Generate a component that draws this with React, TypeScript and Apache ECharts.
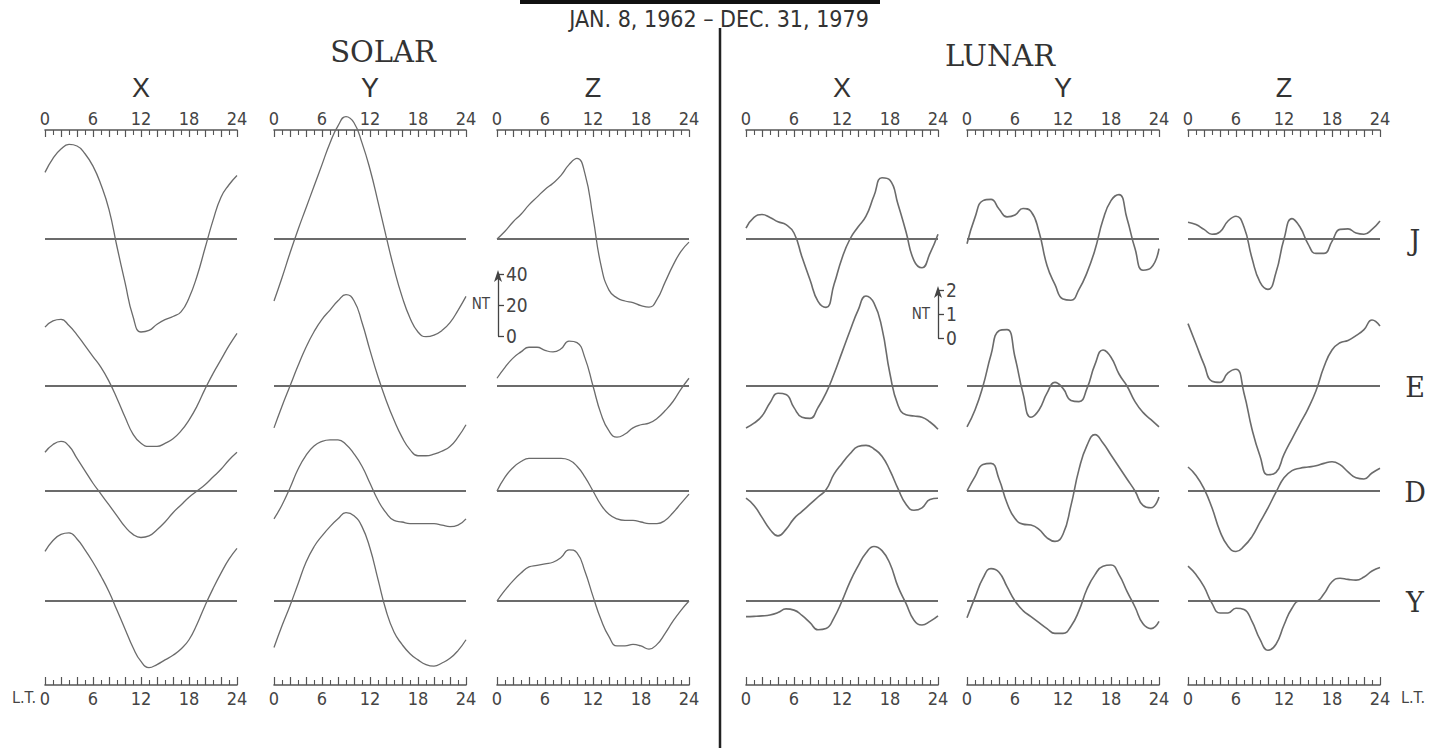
import React, { useEffect, useRef } from "react";
import * as echarts from "echarts";

// ---------- data ----------
const HOURS = [0, 1, 2, 3, 4, 5, 6, 7, 8, 9, 10, 11, 12, 13, 14, 15, 16, 17, 18, 19, 20, 21, 22, 23, 24];
const ROWS = ["J", "E", "D", "Y"];
const COMPONENTS = ["X", "Y", "Z"];
const TICK_LABELS = [0, 6, 12, 18, 24];
const SOLAR_SCALE_TICKS = [0, 20, 40];
const LUNAR_SCALE_TICKS = [0, 1, 2];

// Solar daily variation (nT), rows J, E, D, Y
const SOLAR_X_J = [43, 52, 58, 61, 60, 55, 47, 35, 19, -5, -28, -50, -60, -59, -55, -52, -50, -47, -38, -24, -6, 12, 27, 35, 41];
const SOLAR_X_E = [38, 42, 43, 39, 33, 26, 19, 12, 3, -8, -20, -31, -37, -39, -39, -37, -34, -29, -22, -13, -2, 8, 17, 26, 34];
const SOLAR_X_D = [25, 30, 32, 29, 21, 13, 5, -2, -9, -16, -23, -28, -30, -29, -25, -20, -14, -9, -4, 0, 4, 9, 14, 20, 25];
const SOLAR_X_Y = [32, 39, 43, 44, 40, 33, 25, 16, 6, -6, -18, -30, -39, -43, -41, -38, -35, -31, -25, -15, -3, 8, 18, 27, 34];

const SOLAR_Y_J = [-40, -25, -9, 6, 20, 34, 48, 62, 73, 79, 75, 62, 45, 24, 2, -19, -37, -51, -60, -63, -62, -59, -54, -46, -37];
const SOLAR_Y_E = [-27, -13, 0, 13, 25, 35, 43, 49, 55, 59, 55, 41, 23, 6, -9, -22, -33, -41, -45, -45, -44, -42, -39, -33, -25];
const SOLAR_Y_D = [-18, -9, 2, 14, 23, 29, 32, 33, 33, 30, 24, 16, 5, -6, -14, -19, -20, -21, -21, -21, -21, -22, -23, -22, -18];
const SOLAR_Y_Y = [-30, -16, -3, 11, 25, 35, 42, 48, 53, 57, 55, 48, 34, 14, -6, -20, -28, -34, -38, -41, -42, -40, -37, -32, -25];

const SOLAR_Z_J = [0, 5, 11, 16, 22, 27, 32, 36, 41, 48, 52, 42, 14, -17, -33, -38, -40, -41, -43, -44, -39, -28, -17, -8, -2];
const SOLAR_Z_E = [5, 12, 18, 22, 25, 25, 23, 22, 24, 29, 28, 18, 0, -18, -29, -33, -31, -27, -25, -24, -21, -16, -10, -2, 5];
const SOLAR_Z_D = [0, 9, 15, 19, 21, 21, 21, 21, 21, 20, 16, 9, 0, -9, -15, -18, -19, -19, -20, -21, -21, -19, -14, -8, -2];
const SOLAR_Z_Y = [0, 7, 13, 18, 22, 23, 24, 25, 28, 33, 31, 19, 3, -12, -23, -29, -29, -28, -29, -31, -28, -21, -13, -6, 0];

// Lunar daily variation (nT)
const LUNAR_X_J = [0.45, 0.9, 1.02, 0.9, 0.72, 0.6, 0.25, -0.75, -1.7, -2.6, -2.85, -1.9, -0.8, 0, 0.5, 0.95, 1.8, 2.55, 2.45, 1.45, 0.3, -0.9, -1.2, -0.6, 0.2];
const LUNAR_X_E = [-1.75, -1.55, -1.25, -0.7, -0.3, -0.35, -0.9, -1.3, -1.35, -0.9, -0.3, 0.5, 1.4, 2.3, 3.15, 3.75, 3.45, 2.4, 0.5, -0.8, -1.2, -1.25, -1.3, -1.5, -1.8];
const LUNAR_X_D = [-0.3, -0.6, -1.1, -1.6, -1.87, -1.6, -1.15, -0.85, -0.55, -0.25, 0.05, 0.7, 1.15, 1.55, 1.85, 1.9, 1.75, 1.45, 0.85, 0.1, -0.55, -0.8, -0.7, -0.35, -0.3];
const LUNAR_X_Y = [-0.65, -0.64, -0.62, -0.58, -0.48, -0.33, -0.38, -0.6, -0.9, -1.2, -1.15, -0.7, 0, 0.8, 1.45, 2.0, 2.27, 2.1, 1.55, 0.6, -0.1, -0.8, -1.0, -0.85, -0.62];

const LUNAR_Y_J = [-0.2, 0.9, 1.6, 1.65, 1.25, 0.92, 1.0, 1.27, 1.15, 0.3, -1.1, -1.9, -2.5, -2.55, -2.1, -1.4, -0.45, 0.8, 1.6, 1.85, 0.85, -0.4, -1.3, -1.2, -0.4];
const LUNAR_Y_E = [-1.7, -1.0, 0, 1.3, 2.3, 2.35, 1.2, -0.3, -1.3, -1.0, -0.3, 0.15, -0.1, -0.6, -0.65, -0.1, 0.9, 1.5, 1.2, 0.5, 0, -0.65, -1.1, -1.4, -1.7];
const LUNAR_Y_D = [0, 0.6, 1.1, 1.15, 0.5, -0.5, -1.15, -1.38, -1.42, -1.6, -1.95, -2.1, -1.8, -0.6, 0.9, 1.9, 2.35, 2.0, 1.5, 1.0, 0.5, 0, -0.6, -0.7, -0.25];
const LUNAR_Y_Y = [-0.7, 0.15, 0.95, 1.35, 1.2, 0.6, 0, -0.4, -0.65, -0.9, -1.15, -1.35, -1.35, -1.05, -0.4, 0.5, 1.1, 1.45, 1.5, 1.1, 0.4, -0.25, -0.95, -1.15, -0.85];

const LUNAR_Z_J = [0.7, 0.6, 0.4, 0.2, 0.3, 0.75, 0.95, 0.5, -0.8, -1.8, -2.1, -1.4, 0, 0.85, 0.5, -0.2, -0.6, -0.6, -0.1, 0.4, 0.42, 0.25, 0.2, 0.4, 0.75];
const LUNAR_Z_E = [2.6, 1.75, 0.9, 0.2, 0.15, 0.55, 0.7, -0.3, -1.8, -2.92, -3.7, -3.6, -2.85, -2.2, -1.57, -0.95, -0.2, 0.8, 1.5, 1.8, 1.9, 2.1, 2.35, 2.75, 2.5];
const LUNAR_Z_D = [1.0, 0.65, 0.1, -0.7, -1.68, -2.3, -2.52, -2.3, -1.9, -1.3, -0.7, -0.05, 0.55, 0.85, 0.95, 1.0, 1.05, 1.15, 1.22, 1.1, 0.8, 0.55, 0.5, 0.75, 0.95];
const LUNAR_Z_Y = [1.45, 1.1, 0.6, -0.1, -0.5, -0.5, -0.3, -0.35, -0.85, -1.6, -2.05, -1.8, -1.0, -0.3, 0, 0, 0, 0.3, 0.8, 0.95, 0.9, 0.87, 1.0, 1.25, 1.4];

const SOLAR = [
  [SOLAR_X_J, SOLAR_X_E, SOLAR_X_D, SOLAR_X_Y],
  [SOLAR_Y_J, SOLAR_Y_E, SOLAR_Y_D, SOLAR_Y_Y],
  [SOLAR_Z_J, SOLAR_Z_E, SOLAR_Z_D, SOLAR_Z_Y],
];
const LUNAR = [
  [LUNAR_X_J, LUNAR_X_E, LUNAR_X_D, LUNAR_X_Y],
  [LUNAR_Y_J, LUNAR_Y_E, LUNAR_Y_D, LUNAR_Y_Y],
  [LUNAR_Z_J, LUNAR_Z_E, LUNAR_Z_D, LUNAR_Z_Y],
];

// ---------- layout ----------
const COL_LEFT = [45, 274, 497, 746, 967, 1188];
const COL_W = 192;
const ROW_BASE = [239, 386, 491, 601];
const SOLAR_PX = 1.55; // px per nT
const LUNAR_PX = 24; // px per nT
const SOLAR_R = 90;
const LUNAR_R = 5;
const TOP_AXIS_Y = 130;
const BOTTOM_AXIS_Y = 685;

const SANS = "'Liberation Sans Narrow', 'DejaVu Sans Condensed', 'Liberation Sans', sans-serif";
const SANS_W = "'Liberation Sans', 'DejaVu Sans', sans-serif";
const SERIF = "'DejaVu Serif', 'Liberation Serif', serif";
const INK = "#3a3a3a";
const CURVE = "#6b6b6b";

function buildOption() {
  const grid: any[] = [];
  const xAxis: any[] = [];
  const yAxis: any[] = [];
  const series: any[] = [];
  let gi = 0;

  const addGrid = (g: any, xa: any, ya: any) => {
    grid.push({ ...g, outerBoundsMode: "none", containLabel: false });
    xAxis.push({ gridIndex: gi, ...xa });
    yAxis.push({ gridIndex: gi, ...ya });
    return gi++;
  };

  const tickFmt = (v: number) => (TICK_LABELS.indexOf(v) >= 0 ? String(v) : "");

  const hourAxis = (position: string, tickLen: number, minorLen: number, margin: number) => ({
    type: "value",
    position,
    min: 0,
    max: 24,
    interval: 2,
    axisLine: { show: true, onZero: false, lineStyle: { color: "#555", width: 1.6 } },
    axisTick: { show: true, inside: true, length: tickLen, lineStyle: { color: "#555", width: 1.2 } },
    minorTick: { show: true, splitNumber: 2, length: minorLen, lineStyle: { color: "#555", width: 1.1 } },
    splitLine: { show: false },
    minorSplitLine: { show: false },
    axisLabel: { formatter: tickFmt, color: "#444", fontSize: 18, fontFamily: SANS, margin },
  });

  for (let c = 0; c < 6; c++) {
    const lunar = c >= 3;
    const px = lunar ? LUNAR_PX : SOLAR_PX;
    const R = lunar ? LUNAR_R : SOLAR_R;
    const data = lunar ? LUNAR[c - 3] : SOLAR[c];
    for (let r = 0; r < 4; r++) {
      const idx = addGrid(
        { left: COL_LEFT[c], width: COL_W, top: ROW_BASE[r] - R * px, height: 2 * R * px },
        { type: "value", min: 0, max: 24, show: false },
        { type: "value", min: -R, max: R, show: false }
      );
      series.push({
        type: "line",
        xAxisIndex: idx,
        yAxisIndex: idx,
        data: [
          [HOURS[0], 0],
          [HOURS[HOURS.length - 1], 0],
        ],
        symbol: "none",
        silent: true,
        lineStyle: { color: INK, width: 1.7 },
      });
      series.push({
        type: "line",
        name: (lunar ? "Lunar " : "Solar ") + COMPONENTS[c % 3] + " " + ROWS[r],
        xAxisIndex: idx,
        yAxisIndex: idx,
        data: HOURS.map((h, i) => [h, data[r][i]]),
        smooth: 0.5,
        symbol: "none",
        clip: false,
        lineStyle: { color: CURVE, width: lunar ? 1.6 : 1.3 },
      });
    }
    // top axis (ticks hang down from the bar)
    addGrid({ left: COL_LEFT[c], width: COL_W, top: TOP_AXIS_Y, height: 20 }, hourAxis("top", 7, 5, 3), {
      type: "value",
      show: false,
    });
    // bottom axis (ticks stand up from the bar)
    addGrid(
      { left: COL_LEFT[c], width: COL_W, top: BOTTOM_AXIS_Y - 20, height: 20 },
      hourAxis("bottom", 8, 5, 4),
      { type: "value", show: false }
    );
  }

  // scale bars
  const scaleBar = (left: number, zeroY: number, ticks: number[], px: number) => {
    const max = ticks[ticks.length - 1];
    addGrid(
      { left, width: 40, top: zeroY - max * px, height: max * px },
      { type: "value", min: 0, max: 1, show: false },
      {
        type: "value",
        position: "left",
        min: ticks[0],
        max,
        interval: ticks[1] - ticks[0],
        axisLine: {
          show: true,
          onZero: false,
          symbol: ["none", "arrow"],
          symbolSize: [6, 12],
          symbolOffset: [0, 4],
          lineStyle: { color: "#444", width: 1.3 },
        },
        axisTick: { show: true, inside: true, length: 6, lineStyle: { color: "#444", width: 1.3 } },
        splitLine: { show: false },
        axisLabel: { inside: true, margin: 8, color: "#444", fontSize: 19, fontFamily: SANS },
      }
    );
  };
  scaleBar(498, 336, SOLAR_SCALE_TICKS, SOLAR_PX);
  scaleBar(938, 338, LUNAR_SCALE_TICKS, LUNAR_PX);

  const txt = (text: string, x: number, y: number, size: number, family: string, align = "center", color = "#333") => ({
    type: "text",
    x,
    y,
    silent: true,
    style: {
      text,
      fill: color,
      fontSize: size,
      fontFamily: family,
      textAlign: align,
      textVerticalAlign: "middle",
      verticalAlign: "middle",
    },
  });

  const COL_CENTER = COL_LEFT.map((l) => l + COL_W / 2);
  const graphic: any[] = [
    { type: "rect", silent: true, shape: { x: 520, y: 0, width: 360, height: 4 }, style: { fill: "#111" } },
    txt("JAN. 8, 1962 \u2013 DEC. 31, 1979", 719, 19, 23, SANS),
    txt("SOLAR", 383, 52, 29, SERIF),
    txt("LUNAR", 1000, 56, 29, SERIF),
    { type: "line", silent: true, shape: { x1: 720, y1: 28, x2: 720, y2: 748 }, style: { stroke: "#222", lineWidth: 2.5 } },
    txt("NT", 490, 304, 15, SANS, "right", "#444"),
    txt("NT", 930, 314, 15, SANS, "right", "#444"),
    txt("L.T.", 36, 697, 16, SANS, "right", "#444"),
    txt("L.T.", 1401, 697, 16, SANS, "left", "#444"),
  ];
  COL_CENTER.forEach((cx, i) => graphic.push(txt(COMPONENTS[i % 3], cx, 88, 27, SANS_W)));
  ROWS.forEach((r, i) => graphic.push(txt(r, 1415, ROW_BASE[i] + 1, 27, SERIF)));

  return { animation: false, backgroundColor: "#ffffff", grid, xAxis, yAxis, series, graphic };
}

export default function App() {
  const ref = useRef<HTMLDivElement>(null);
  useEffect(() => {
    document.body.style.margin = "0";
    if (!ref.current) return;
    const chart = echarts.init(ref.current, undefined, { renderer: "svg" });
    chart.setOption(buildOption() as any);
    return () => chart.dispose();
  }, []);
  return <div ref={ref} style={{ width: 1433, height: 748 }} />;
}
